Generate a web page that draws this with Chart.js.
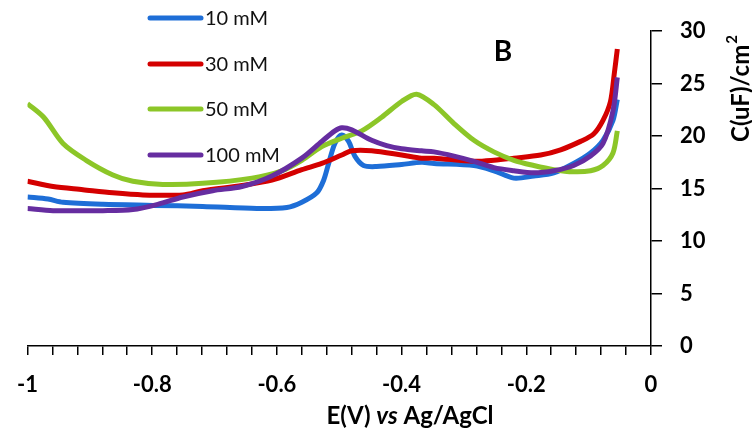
<!DOCTYPE html>
<html>
<head>
<meta charset="utf-8">
<script src="https://cdn.jsdelivr.net/npm/chart.js@4.4.1/dist/chart.umd.min.js"></script>
<style>
  html, body { margin: 0; padding: 0; background: #fff; }
  #wrap { width: 752px; height: 433px; position: relative; }
</style>
</head>
<body>
<div id="wrap"><canvas id="myChart"></canvas></div>
<script>
// values
const labels = ['10 mM', '30 mM', '50 mM', '100 mM'];
const colors = ['rgb(30,110,215)', 'rgb(212,0,0)', 'rgb(140,198,40)', 'rgb(102,45,160)'];

const e10 = [-1, -0.967, -0.943, -0.879, -0.799, -0.719, -0.632, -0.584, -0.56, -0.536, -0.525, -0.517, -0.507, -0.496, -0.485, -0.475, -0.461, -0.44, -0.4, -0.368, -0.348, -0.284, -0.252, -0.22, -0.188, -0.156, -0.124, -0.097, -0.077, -0.061, -0.054];
const c10 = [14.2, 14.0, 13.7, 13.5, 13.4, 13.3, 13.1, 13.2, 13.7, 14.6, 15.8, 17.4, 19.3, 20.1, 19.5, 18.1, 17.2, 17.1, 17.3, 17.5, 17.4, 17.2, 16.7, 16.0, 16.2, 16.5, 17.4, 18.4, 19.6, 21.5, 23.5];

const e30 = [-1, -0.959, -0.911, -0.863, -0.815, -0.751, -0.719, -0.656, -0.608, -0.56, -0.528, -0.496, -0.48, -0.448, -0.4, -0.368, -0.348, -0.284, -0.252, -0.22, -0.177, -0.145, -0.113, -0.092, -0.077, -0.065, -0.059, -0.054];
const c30 = [15.7, 15.2, 14.9, 14.6, 14.4, 14.4, 14.8, 15.3, 15.8, 16.8, 17.4, 18.2, 18.6, 18.6, 18.2, 17.9, 17.9, 17.6, 17.7, 17.9, 18.2, 18.7, 19.5, 20.2, 21.5, 23.3, 25.9, 28.3];

const e50 = [-1, -0.974, -0.943, -0.906, -0.863, -0.831, -0.783, -0.719, -0.64, -0.592, -0.56, -0.528, -0.496, -0.464, -0.432, -0.4, -0.376, -0.348, -0.316, -0.284, -0.252, -0.22, -0.188, -0.156, -0.124, -0.097, -0.077, -0.061, -0.054];
const c50 = [23.1, 21.8, 19.3, 17.7, 16.3, 15.7, 15.4, 15.5, 16.0, 16.7, 17.7, 19.0, 19.8, 20.5, 21.8, 23.3, 24.0, 23.0, 21.2, 19.6, 18.5, 17.7, 17.2, 16.8, 16.6, 16.7, 17.2, 18.4, 20.5];

const e100 = [-1, -0.959, -0.879, -0.831, -0.791, -0.751, -0.703, -0.656, -0.608, -0.56, -0.528, -0.507, -0.496, -0.48, -0.448, -0.424, -0.4, -0.368, -0.348, -0.316, -0.284, -0.252, -0.22, -0.188, -0.156, -0.124, -0.097, -0.077, -0.061, -0.054];
const c100 = [13.1, 12.9, 12.9, 13.0, 13.5, 14.2, 14.8, 15.2, 16.2, 17.9, 19.5, 20.5, 20.8, 20.6, 19.6, 19.1, 18.8, 18.6, 18.5, 18.1, 17.6, 17.0, 16.7, 16.5, 16.7, 17.2, 18.1, 19.3, 22.4, 25.6];

const xs = [e10, e30, e50, e100];
const ys = [c10, c30, c50, c100];

Chart.defaults.font.family = 'Lato, "Open Sans", sans-serif';
Chart.defaults.color = '#000';

const toPoints = (ex, cy) => ex.map((v, i) => ({ x: v, y: cy[i] }));

const datasets = labels.map((name, i) => ({
    label: name,
    data: toPoints(xs[i], ys[i]),
    borderColor: colors[i],
    backgroundColor: colors[i],
    borderWidth: 5,
    pointRadius: 0,
    tension: 0.3,
    order: 3 - i
}));

// legend, panel letter and axis titles
const extras = {
    id: 'extras',
    afterDraw(chart) {
        const c = chart.ctx;
        c.save();
        c.textBaseline = 'middle';
        const rows = [18, 64, 109, 155];
        chart.data.datasets.forEach((ds, i) => {
            c.strokeStyle = ds.borderColor;
            c.lineWidth = 5;
            c.lineCap = 'round';
            c.beginPath();
            c.moveTo(150, rows[i]);
            c.lineTo(201, rows[i]);
            c.stroke();
            c.fillStyle = '#111';
            c.font = '20px Lato';
            c.textAlign = 'left';
            c.fillText(ds.label, 205, rows[i] + 1);
        });

        c.fillStyle = '#000';
        c.font = 'bold 28px Lato';
        c.textAlign = 'center';
        c.fillText('B', 503, 52);

        // x title, "vs" in italic
        const parts = [['E(V) ', 'bold 24px Lato'], ['vs', 'italic bold 24px Lato'], [' Ag/AgCl', 'bold 24px Lato']];
        let total = 0;
        parts.forEach(p => { c.font = p[1]; total += c.measureText(p[0]).width; });
        let x = 410 - total / 2;
        c.textAlign = 'left';
        parts.forEach(p => {
            c.font = p[1];
            c.fillText(p[0], x, 416);
            x += c.measureText(p[0]).width;
        });

        // y title with raised 2
        c.translate(740, 89);
        c.rotate(-Math.PI / 2);
        c.font = 'bold 24px Lato';
        const main = 'C(uF)/cm';
        const w1 = c.measureText(main).width;
        c.font = 'bold 15px Lato';
        const w2 = c.measureText('2').width;
        let sx = -(w1 + w2) / 2;
        c.textAlign = 'left';
        c.font = 'bold 24px Lato';
        c.fillText(main, sx, 1);
        c.font = 'bold 15px Lato';
        c.fillText('2', sx + w1 + 1, -8);
        c.restore();
    }
};

const ctx = document.getElementById('myChart').getContext('2d');
const chart = new Chart(ctx, {
    type: 'line',
    data: { datasets: datasets },
    options: {
        responsive: true,
        maintainAspectRatio: false,
        animation: false,
        layout: { padding: { left: 24, top: 25, right: 0, bottom: 0 } },
        plugins: { legend: { display: false }, tooltip: { enabled: false } },
        scales: {
            x: {
                type: 'linear',
                min: -1,
                max: 0,
                grid: { display: true, drawOnChartArea: false, drawTicks: true, tickLength: 9, color: '#000', lineWidth: 1.5 },
                border: { color: '#000', width: 1.5 },
                ticks: {
                    stepSize: 0.04,
                    autoSkip: false,
                    maxRotation: 0,
                    padding: 17,
                    font: { size: 22, weight: 'bold' },
                    callback: v => {
                        const r = Math.round(v * 100);
                        return r % 20 === 0 ? String(Math.round(v * 10) / 10) : '';
                    }
                },
                afterFit: s => { s.height = 87; }
            },
            y: {
                position: 'right',
                min: 0,
                max: 30,
                grid: { display: true, drawOnChartArea: false, drawTicks: true, tickLength: 11, color: '#000', lineWidth: 1.5 },
                border: { color: '#000', width: 1.5 },
                ticks: { stepSize: 5, padding: 18, font: { size: 22, weight: 'bold' } },
                afterFit: s => { s.width = 101; }
            }
        }
    },
    plugins: [extras]
});
</script>
</body>
</html>
